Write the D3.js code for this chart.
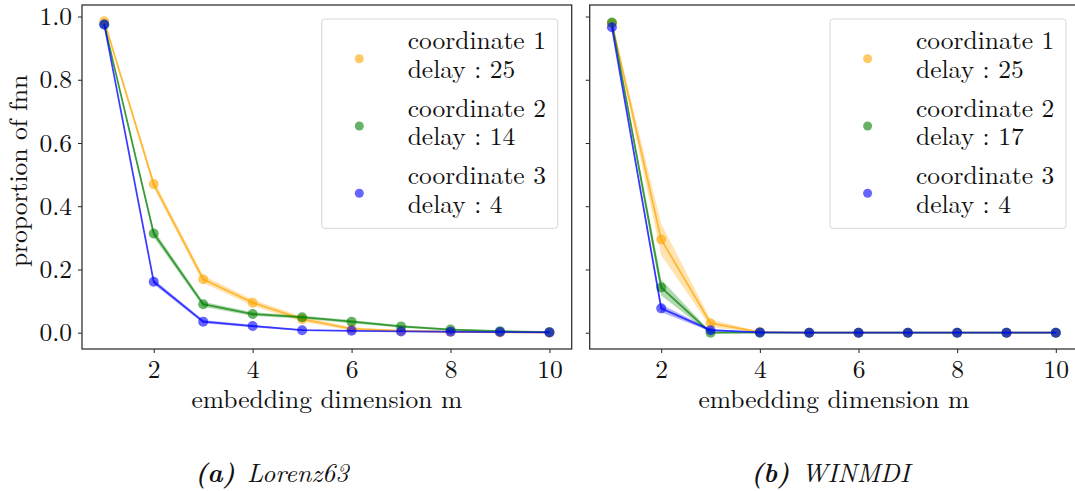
<!DOCTYPE html>
<html>
<head>
<meta charset="utf-8">
<script src="https://cdn.jsdelivr.net/npm/d3@7"></script>
<style>
  html, body { margin: 0; padding: 0; background: #fff; }
  svg { display: block; }
</style>
</head>
<body>
<svg id="chart" width="1075" height="491"></svg>
<script>
// ---------------- data ----------------
const dims = [1, 2, 3, 4, 5, 6, 7, 8, 9, 10];
const xTicks = [2, 4, 6, 8, 10];
const yTicks = [0.0, 0.2, 0.4, 0.6, 0.8, 1.0];
const seriesColors = ["orange", "green", "blue"];
const coordNames = ["coordinate 1", "coordinate 2", "coordinate 3"];

// (a) Lorenz63
const lorenzDelays = [25, 14, 4];
const lorenzCoord1 = [0.985, 0.470, 0.169, 0.095, 0.043, 0.012, 0.006, 0.003, 0.001, 0.000];
const lorenzCoord2 = [0.975, 0.314, 0.090, 0.059, 0.049, 0.035, 0.020, 0.010, 0.005, 0.002];
const lorenzCoord3 = [0.975, 0.161, 0.035, 0.021, 0.008, 0.006, 0.004, 0.003, 0.002, 0.001];
const lorenzSd1 = [0.005, 0.012, 0.012, 0.010, 0.008, 0.005, 0.003, 0.002, 0.001, 0.001];
const lorenzSd2 = [0.005, 0.012, 0.008, 0.006, 0.005, 0.005, 0.004, 0.003, 0.002, 0.001];
const lorenzSd3 = [0.005, 0.008, 0.005, 0.004, 0.002, 0.001, 0.001, 0.001, 0.001, 0.001];

// (b) WINMDI
const winmdiDelays = [25, 17, 4];
const winmdiCoord1 = [0.979, 0.295, 0.030, 0.002, 0.000, 0.000, 0.000, 0.000, 0.000, 0.000];
const winmdiCoord2 = [0.981, 0.143, 0.000, 0.000, 0.000, 0.000, 0.000, 0.000, 0.000, 0.000];
const winmdiCoord3 = [0.966, 0.077, 0.008, 0.001, 0.000, 0.000, 0.000, 0.000, 0.000, 0.000];
const winmdiSd1 = [0.005, 0.050, 0.012, 0.002, 0.000, 0.000, 0.000, 0.000, 0.000, 0.000];
const winmdiSd2 = [0.004, 0.025, 0.003, 0.000, 0.000, 0.000, 0.000, 0.000, 0.000, 0.000];
const winmdiSd3 = [0.006, 0.012, 0.004, 0.001, 0.000, 0.000, 0.000, 0.000, 0.000, 0.000];

// ---------------- drawing ----------------
const svg = d3.select("#chart");
const FONT = 25.5;
const FAMILY = '"Latin Modern Roman", "Liberation Serif", serif';

const panels = [
  { left: 82, right: 571.7, showYLabels: true,
    means: [lorenzCoord1, lorenzCoord2, lorenzCoord3],
    sds: [lorenzSd1, lorenzSd2, lorenzSd3], delays: lorenzDelays,
    legendX: 321.7, capBold: "(a)", capText: "Lorenz63", capX: 195 },
  { left: 589.7, right: 1078, showYLabels: false,
    means: [winmdiCoord1, winmdiCoord2, winmdiCoord3],
    sds: [winmdiSd1, winmdiSd2, winmdiSd3], delays: winmdiDelays,
    legendX: 830, capBold: "(b)", capText: "WINMDI", capX: 751 }
];

const plotTop = 5, plotBottom = 349;

panels.forEach((p, pi) => {
  const x = d3.scaleLinear().domain([0.55, 10.45]).range([p.left, p.right]);
  const y = d3.scaleLinear().domain([-0.0515, 1.0364]).range([plotBottom, plotTop]);

  const g = svg.append("g");
  const clipId = "clip" + pi;
  svg.append("defs").append("clipPath").attr("id", clipId)
    .append("rect").attr("x", p.left).attr("y", plotTop)
    .attr("width", p.right - p.left).attr("height", plotBottom - plotTop);

  const plot = g.append("g").attr("clip-path", `url(#${clipId})`);

  p.means.forEach((vals, si) => {
    const col = seriesColors[si];
    const pts = dims.map((d, i) => ({ x: d, y: vals[i], sd: p.sds[si][i] }));
    const area = d3.area().x(d => x(d.x)).y0(d => y(d.y - d.sd)).y1(d => y(d.y + d.sd));
    plot.append("path").datum(pts).attr("d", area)
      .attr("fill", col).attr("fill-opacity", 0.3).attr("stroke", "none");
    const line = d3.line().x(d => x(d.x)).y(d => y(d.y));
    plot.append("path").datum(pts).attr("d", line)
      .attr("fill", "none").attr("stroke", col).attr("stroke-opacity", 0.7)
      .attr("stroke-width", 1.8);
    plot.selectAll(null).data(pts).enter().append("circle")
      .attr("cx", d => x(d.x)).attr("cy", d => y(d.y)).attr("r", 5)
      .attr("fill", col).attr("fill-opacity", 0.6);
  });

  // axes
  const xAxis = d3.axisBottom(x).tickValues(xTicks).tickSize(4)
    .tickFormat(d3.format("d"));
  const gx = g.append("g").attr("transform", `translate(0,${plotBottom})`).call(xAxis);
  gx.select(".domain").remove();
  gx.selectAll("line").attr("stroke", "#222").attr("stroke-width", 1);
  gx.selectAll("text").attr("font-size", FONT).attr("fill", "#111")
    .attr("y", 28.7).attr("dy", null);

  const yAxis = d3.axisLeft(y).tickValues(yTicks).tickSize(4)
    .tickFormat(p.showYLabels ? d3.format(".1f") : () => "");
  const gy = g.append("g").attr("transform", `translate(${p.left},0)`).call(yAxis);
  gy.select(".domain").remove();
  gy.selectAll("line").attr("stroke", "#222").attr("stroke-width", 1);
  gy.selectAll("text").attr("font-size", FONT).attr("fill", "#111")
    .attr("x", -10).attr("dy", "0.32em");

  // frame
  g.append("rect").attr("x", p.left).attr("y", plotTop)
    .attr("width", p.right - p.left).attr("height", plotBottom - plotTop)
    .attr("fill", "none").attr("stroke", "#333").attr("stroke-width", 1.3);

  // x label
  g.append("text").attr("x", (p.left + p.right) / 2).attr("y", 408)
    .attr("text-anchor", "middle").attr("font-size", FONT)
    .text("embedding dimension m");

  // legend
  const lg = g.append("g");
  lg.append("rect").attr("x", p.legendX).attr("y", 19).attr("width", 236).attr("height", 209.3)
    .attr("rx", 3).attr("fill", "#fff").attr("fill-opacity", 0.8)
    .attr("stroke", "#d6d6d6").attr("stroke-width", 1);
  coordNames.forEach((name, si) => {
    const cy = 58.7 + si * 67.3;
    lg.append("circle").attr("cx", p.legendX + 37.6).attr("cy", cy).attr("r", 4.5)
      .attr("fill", seriesColors[si]).attr("fill-opacity", 0.6);
    lg.append("text").attr("x", p.legendX + 86).attr("y", 49.3 + si * 67.3)
      .attr("font-size", FONT).text(name);
    lg.append("text").attr("x", p.legendX + 86).attr("y", 78 + si * 67.3)
      .attr("font-size", FONT).attr("xml:space", "preserve")
      .text("delay : " + p.delays[si]);
  });

  // caption
  const cap = svg.append("text").attr("x", p.capX).attr("y", 481.7).attr("font-size", 26);
  cap.append("tspan").attr("font-weight", "bold").attr("font-style", "italic").text(p.capBold);
  cap.append("tspan").attr("dx", 12).attr("font-style", "italic").text(p.capText);
});

// y label
svg.append("text")
  .attr("transform", "translate(27,171) rotate(-90)")
  .attr("text-anchor", "middle").attr("font-size", FONT)
  .text("proportion of fnn");

// apply the serif (Computer Modern–like) font everywhere
svg.selectAll("text").style("font-family", FAMILY).style("fill", "#111");
</script>
</body>
</html>
